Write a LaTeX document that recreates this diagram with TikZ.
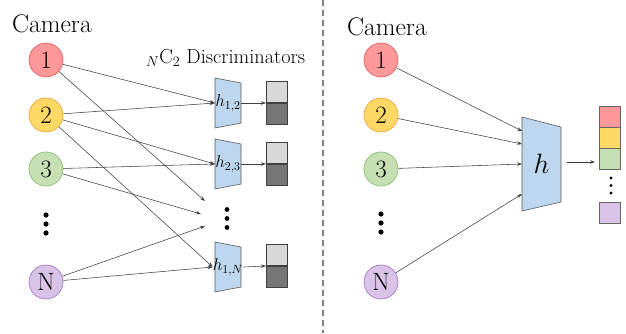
\RequirePackage{fix-cm}
\documentclass[tikz,border=0pt]{standalone}
\usetikzlibrary{arrows.meta}
\definecolor{cRedF}{HTML}{FF9999}
\definecolor{cRedD}{HTML}{E06666}
\definecolor{cYelF}{HTML}{FFD966}
\definecolor{cYelD}{HTML}{F0A53C}
\definecolor{cGrnF}{HTML}{C6E0B4}
\definecolor{cGrnD}{HTML}{8DBF7A}
\definecolor{cPurF}{HTML}{D9C3E6}
\definecolor{cPurD}{HTML}{A27BC4}
\definecolor{cBlue}{HTML}{BDD7EE}
\definecolor{cLight}{HTML}{D9D9D9}
\definecolor{cDark}{HTML}{767676}
\begin{document}
\begin{tikzpicture}[x=1pt,y=-1pt,
  cam/.style={circle, draw, minimum size=34pt, inner sep=0pt, line width=0.7pt,
    font=\fontsize{25}{25}\selectfont},
  conn/.style={draw=black!75, line width=0.55pt, -{Stealth[length=5pt,width=3.5pt]}},
  trap/.style={fill=cBlue, draw=black!65, line width=0.6pt},
  hbox/.style={rectangle, inner sep=0pt, font=\fontsize{17}{17}\selectfont},
  barbox/.style={rectangle, draw=black!75, line width=0.6pt, minimum width=21pt, minimum height=21pt, inner sep=0pt},
  outbox/.style={rectangle, draw=black!60, line width=0.6pt, minimum width=21pt, minimum height=20.5pt, inner sep=0pt},
  bigdot/.style={fill=black},
  title/.style={anchor=base west, inner sep=0pt, font=\fontsize{25.5}{25.5}\selectfont}]
\useasboundingbox (0,0) rectangle (626,333);

% separator
\draw[black!50, line width=1.2pt, dash pattern=on 6pt off 4pt] (323,0) -- (323,333);

%================ LEFT =================
\node[title] (camL) at (12,32) {Camera};
\node[anchor=base west, inner sep=0pt, font=\fontsize{20.3}{20.3}\selectfont] (disc) at (146,63) {${}_N\mathrm{C}_2$ Discriminators};

\node[cam, fill=cRedF, draw=cRedD] (a1) at (46,60) {1};
\node[cam, fill=cYelF, draw=cYelD] (a2) at (46,115) {2};
\node[cam, fill=cGrnF, draw=cGrnD] (a3) at (46,169) {3};
\node[cam, fill=cPurF, draw=cPurD] (aN) at (46,282) {N};
\foreach \yy in {215,224,233} \fill[bigdot] (46,\yy) circle (2.6pt);

% discriminators
\draw[trap] (215,78) -- (241,83) -- (241,123) -- (215,128) -- cycle;
\draw[trap] (215,139) -- (241,144) -- (241,184) -- (215,189) -- cycle;
\draw[trap] (215,242) -- (241,247) -- (241,287) -- (215,292) -- cycle;
\node[hbox, minimum width=26pt, minimum height=50pt] (h12) at (228,103) {$h_{1,2}$};
\node[hbox, minimum width=26pt, minimum height=50pt] (h23) at (228,164) {$h_{2,3}$};
\node[hbox, minimum width=26pt, minimum height=50pt] (h1N) at (228,267) {$h_{1,N}$};

% middle dots
\foreach \yy in {209.5,218.5,227.5} \fill[bigdot] (227,\yy) circle (2.4pt);
\coordinate (d1) at (205,201);
\coordinate (d2) at (201,214);
\coordinate (d3) at (205,226);

% bars
\foreach \nm/\yc in {b1/103, b2/164, b3/266}{
  \node[barbox, fill=cLight, anchor=south] (\nm t) at (276.5,\yc) {};
  \node[barbox, fill=cDark, anchor=north] (\nm b) at (276.5,\yc) {};
  \coordinate (\nm) at (266,\yc);
}

% connectors
\draw[conn] (a1) -- (h12.west);
\draw[conn] (a1) -- (d1);
\draw[conn] (a2) -- (h12.west);
\draw[conn] (a2) -- (h23.west);
\draw[conn] (a2) -- (h1N.west);
\draw[conn] (a3) -- (h23.west);
\draw[conn] (a3) -- (d2);
\draw[conn] (aN) -- (d3);
\draw[conn] (aN) -- (h1N.west);
\draw[conn] (h12.east) -- (b1);
\draw[conn] (h23.east) -- (b2);
\draw[conn] (h1N.east) -- (b3);

%================ RIGHT =================
\node[title] (camR) at (347,35) {Camera};
\node[cam, fill=cRedF, draw=cRedD] (r1) at (381,60) {1};
\node[cam, fill=cYelF, draw=cYelD] (r2) at (381,115) {2};
\node[cam, fill=cGrnF, draw=cGrnD] (r3) at (381,169) {3};
\node[cam, fill=cPurF, draw=cPurD] (rN) at (381,282) {N};
\foreach \yy in {214,223,232} \fill[bigdot] (381,\yy) circle (2.6pt);

\draw[trap] (522,117) -- (561,127) -- (561,202) -- (522,211) -- cycle;
\node[hbox, minimum width=39pt, minimum height=94pt, font=\fontsize{28}{28}\selectfont] (H) at (541.5,164) {$h$};
\coordinate (e1) at (522,131);
\coordinate (e2) at (522,144);
\coordinate (e3) at (522,164);
\coordinate (e4) at (522,194);
\draw[conn] (r1) -- (e1);
\draw[conn] (r2) -- (e2);
\draw[conn] (r3) -- (e3);
\draw[conn] (rN) -- (e4);

% output
\node[outbox, fill=cRedF, anchor=north] (o1) at (609.5,106) {};
\node[outbox, fill=cYelF, anchor=north] (o2) at (o1.south) {};
\node[outbox, fill=cGrnF, anchor=north] (o3) at (o2.south) {};
\node[outbox, fill=cPurF] (o4) at (609.5,213) {};
\foreach \yy in {178,185.5,193} \fill[bigdot] (611,\yy) circle (1.7pt);
\coordinate (oin) at (595,162);
\coordinate (hout) at (567,162);
\draw[conn] (hout) -- (oin);
\end{tikzpicture}
\end{document}
